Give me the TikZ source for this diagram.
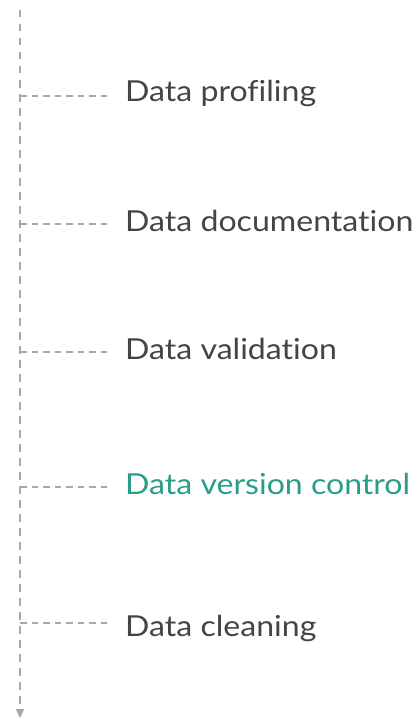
\documentclass[tikz,border=0pt]{standalone}
\usepackage{fontspec}
\setmainfont{Lato}[FakeStretch=1.11,Ligatures=NoCommon]
\usetikzlibrary{arrows.meta}
\definecolor{dashgray}{HTML}{A8A8A8}
\definecolor{txtgray}{HTML}{444444}
\definecolor{teal}{HTML}{2A9D8A}
\begin{document}
\begin{tikzpicture}[x=1bp,y=-1bp,
  vline/.style={draw=dashgray,line width=2bp,dash pattern=on 7.5bp off 6.5bp},
  hline/.style={draw=dashgray,line width=2bp,dash pattern=on 6.5bp off 5bp},
  lbl/.style={anchor=west,inner sep=0pt,font=\fontsize{29}{34}\selectfont,text=txtgray},
  hl/.style={lbl,text=teal}]
\useasboundingbox (0,0) rectangle (419,719);
\coordinate (top) at (20,10);
\coordinate (bot) at (20,718);
\draw[vline,-{Triangle[width=8bp,length=9bp]},dashgray] (top) -- (bot);
\coordinate (j1) at (20,96);
\coordinate (j2) at (20,224);
\coordinate (j3) at (20,352);
\coordinate (j4) at (20,487);
\coordinate (j5) at (20,623);
\node[lbl] (t1) at (125,93) {Data profiling};
\node[lbl] (t2) at (125,221) {Data documentation};
\node[lbl] (t3) at (125,349) {Data validation};
\node[hl] (t4) at (125,484) {Data version control};
\node[lbl] (t5) at (125,628) {Data cleaning};
\foreach \i in {1,...,5}{\draw[hline] (j\i) -- ++(90,0);}
\end{tikzpicture}
\end{document}
